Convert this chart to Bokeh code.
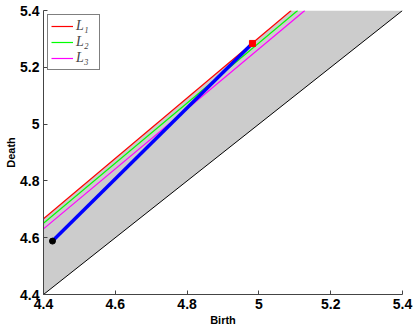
from bokeh.plotting import figure
from bokeh.embed import file_html
from bokeh.resources import INLINE
from bokeh.models import FixedTicker, CustomJSTickFormatter, Legend, LegendItem, Range1d

# --- data ---
diag_x = [4.4, 5.4]
diag_y = [4.4, 5.4]

l1_x = [4.4, 5.09]
l1_y = [4.667, 5.4]
l2_x = [4.4, 5.108]
l2_y = [4.651, 5.4]
l3_x = [4.4, 5.128]
l3_y = [4.631, 5.4]

region_x = [4.4, 5.4, 5.09, 4.4]
region_y = [4.4, 5.4, 5.4, 4.667]

path_x = [4.425, 4.978]
path_y = [4.588, 5.279]
start_pt = ([4.425], [4.588])
end_pt = ([4.982], [5.284])

ticks = [4.4, 4.6, 4.8, 5.0, 5.2, 5.4]
legend_labels = ["L\u2081", "L\u2082", "L\u2083"]

p = figure(width=415, height=328, output_backend="svg", toolbar_location=None,
           x_range=Range1d(4.4, 5.4), y_range=Range1d(4.4, 5.4),
           min_border_left=43, min_border_right=13, min_border_top=10, min_border_bottom=34)

p.patch(region_x, region_y, fill_color="#cccccc", line_color=None)
p.line(diag_x, diag_y, line_color="black", line_width=1)
r1 = p.line(l1_x, l1_y, line_color="#ff0000", line_width=1.2)
r2 = p.line(l2_x, l2_y, line_color="#00ff00", line_width=1.2)
r3 = p.line(l3_x, l3_y, line_color="#ff00ff", line_width=1.2)
p.line(path_x, path_y, line_color="#0000ff", line_width=3.5)
p.scatter(start_pt[0], start_pt[1], size=6, fill_color="black", line_color="black")
p.scatter(end_pt[0], end_pt[1], size=6, marker="square", fill_color="#ff0000", line_color="#ff0000")

p.outline_line_color = None
p.xgrid.visible = False
p.ygrid.visible = False
p.background_fill_color = "white"
p.border_fill_color = "white"

fmt = CustomJSTickFormatter(code="return tick.toFixed(1).replace(/\\.0$/, '');")
for ax in (p.xaxis[0], p.yaxis[0]):
    ax.ticker = FixedTicker(ticks=ticks)
    ax.formatter = fmt
    ax.major_tick_in = 4
    ax.major_tick_out = 0
    ax.minor_tick_line_color = None
    ax.axis_line_color = "#444444"
    ax.major_tick_line_color = "#444444"
    ax.major_label_text_font = "Liberation Sans"
    ax.major_label_text_font_style = "bold"
    ax.major_label_text_font_size = "14px"
    ax.major_label_text_color = "black"
    ax.axis_label_text_font = "Liberation Sans"
    ax.axis_label_text_font_style = "bold"
    ax.axis_label_text_font_size = "11px"
    ax.axis_label_text_color = "black"
    ax.major_label_standoff = 4

p.xaxis[0].axis_label_standoff = 2
p.yaxis[0].axis_label_standoff = 0
p.xaxis.axis_label = "Birth"
p.yaxis.axis_label = "Death"

legend = Legend(items=[LegendItem(label=legend_labels[0], renderers=[r1]),
                       LegendItem(label=legend_labels[1], renderers=[r2]),
                       LegendItem(label=legend_labels[2], renderers=[r3])],
                location="top_left")
legend.margin = 4
legend.padding = 3
legend.spacing = 0
legend.glyph_width = 22
legend.glyph_height = 12
legend.label_height = 12
legend.label_standoff = 3
legend.label_text_font = "Liberation Serif"
legend.label_text_font_style = "italic"
legend.label_text_font_size = "14px"
legend.border_line_color = "black"
legend.border_line_width = 1
legend.background_fill_alpha = 1
p.add_layout(legend)

open("out.html", "w").write(file_html(p, INLINE))
